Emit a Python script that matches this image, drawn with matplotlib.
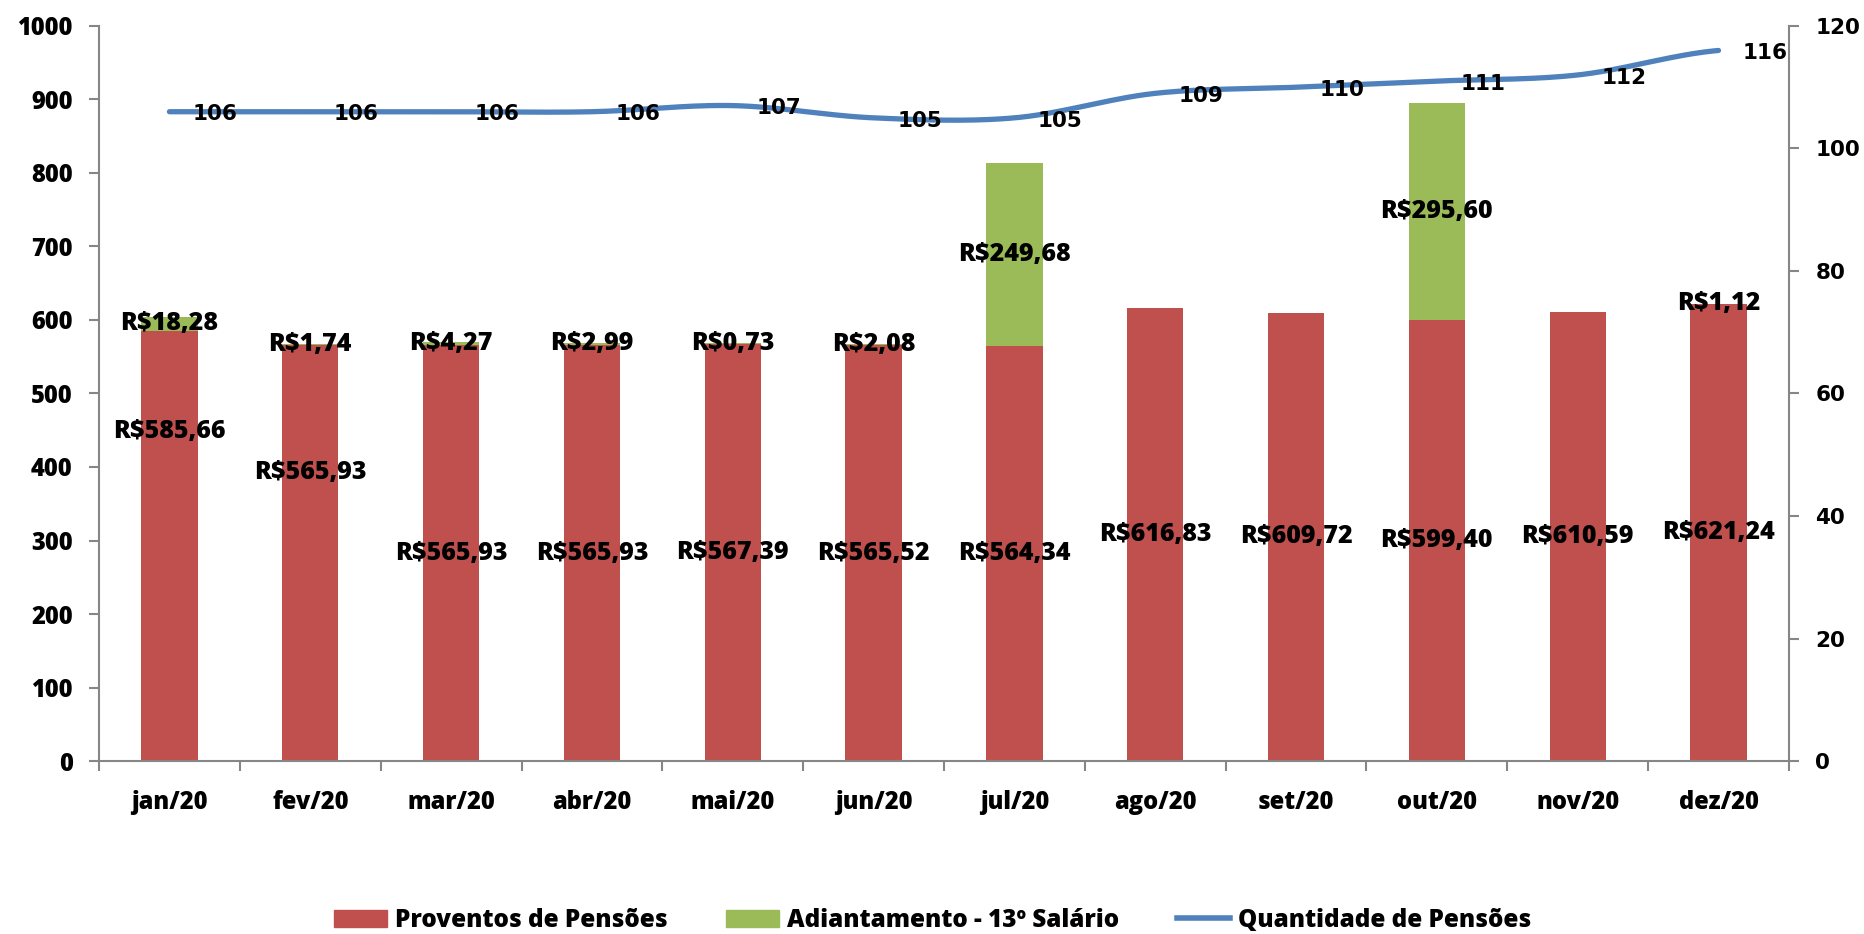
import numpy as np
import matplotlib
matplotlib.use("Agg")
import matplotlib.pyplot as plt
from matplotlib.patches import Patch
from matplotlib.lines import Line2D

meses = ["jan/20", "fev/20", "mar/20", "abr/20", "mai/20", "jun/20",
         "jul/20", "ago/20", "set/20", "out/20", "nov/20", "dez/20"]
proventos = [585.66, 565.93, 565.93, 565.93, 567.39, 565.52,
             564.34, 616.83, 609.72, 599.40, 610.59, 621.24]
adiantamento = [18.28, 1.74, 4.27, 2.99, 0.73, 2.08,
                249.68, 0, 0, 295.60, 0, 1.12]
quantidade = [106, 106, 106, 106, 107, 105, 105, 109, 110, 111, 112, 116]

RED = "#C0504D"
GREEN = "#9BBB59"
BLUE = "#4F81BD"
GRAY = "#868686"
F1 = "Open Sans"
F2 = "DejaVu Sans"
WT = 800

# labels moved by hand in the original (value units)
red_label_y = {0: 448, 1: 393}


def brl(v):
    return "R$" + f"{v:.2f}".replace(".", ",")


def catmull_rom(x, y, n=30):
    x = np.asarray(x, float)
    y = np.asarray(y, float)
    px = np.concatenate([[2 * x[0] - x[1]], x, [2 * x[-1] - x[-2]]])
    py = np.concatenate([[y[0]], y, [y[-1]]])
    xs, ys = [], []
    t = np.linspace(0, 1, n)
    for i in range(1, len(px) - 2):
        for arr, out in ((px, xs), (py, ys)):
            p0, p1, p2, p3 = arr[i - 1], arr[i], arr[i + 1], arr[i + 2]
            out.extend(0.5 * ((2 * p1) + (-p0 + p2) * t
                              + (2 * p0 - 5 * p1 + 4 * p2 - p3) * t ** 2
                              + (-p0 + 3 * p1 - 3 * p2 + p3) * t ** 3))
    return np.array(xs), np.array(ys)


fig = plt.figure(figsize=(18.65, 9.34), dpi=100)
ax = fig.add_axes([0.0531, 0.1852, 0.9061, 0.787])
x = np.arange(len(meses))
w = 0.40

ax.bar(x, proventos, w, color=RED, zorder=2)
ax.bar(x, adiantamento, w, bottom=proventos, color=GREEN, zorder=2)

for i, (p, a) in enumerate(zip(proventos, adiantamento)):
    ax.text(i, red_label_y.get(i, p / 2), brl(p), ha="center", va="center",
            fontsize=18, fontweight=WT, family=F1, zorder=5)
    if a > 0:
        ax.text(i, p + a / 2, brl(a), ha="center", va="center",
                fontsize=18, fontweight=WT, family=F1, zorder=5)

ax.set_xlim(-0.5, len(meses) - 0.5)
ax.set_ylim(0, 1000)
ax.set_yticks(range(0, 1001, 100))
ax.set_xticks(x)
ax.set_xticklabels(meses)
ax.set_xticks(np.arange(-0.5, len(meses), 1), minor=True)
ax.tick_params(axis="x", which="major", length=0, pad=21)
ax.tick_params(axis="x", which="minor", length=7, width=1.5, color=GRAY)
ax.tick_params(axis="y", length=7, width=1.5, color=GRAY, pad=12)
for lab in ax.get_xticklabels() + ax.get_yticklabels():
    lab.set_fontfamily(F1)
    lab.set_fontweight(WT)
    lab.set_fontsize(17)
for s in ("left", "bottom"):
    ax.spines[s].set_color(GRAY)
    ax.spines[s].set_linewidth(1.5)
ax.spines["top"].set_visible(False)
ax.spines["right"].set_visible(False)

ax2 = ax.twinx()
ax2.set_ylim(0, 120)
ax2.set_yticks(range(0, 121, 20))
sx, sy = catmull_rom(x, quantidade)
ax2.plot(sx, sy, color=BLUE, lw=3.8, solid_capstyle="round", zorder=4)
for i, q in enumerate(quantidade):
    ax2.annotate(str(q), (i, q), xytext=(17, -2), textcoords="offset points",
                 ha="left", va="center", fontsize=15.5, fontweight="bold",
                 family=F2, zorder=6)
ax2.tick_params(axis="y", length=7, width=1.5, color=GRAY, pad=12)
for lab in ax2.get_yticklabels():
    lab.set_fontfamily(F2)
    lab.set_fontweight("bold")
    lab.set_fontsize(15.5)
for s in ("top", "left", "bottom"):
    ax2.spines[s].set_visible(False)
ax2.spines["right"].set_color(GRAY)
ax2.spines["right"].set_linewidth(1.5)

handles = [Patch(color=RED, label="Proventos de Pensões"),
           Patch(color=GREEN, label="Adiantamento - 13º Salário"),
           Line2D([0], [0], color=BLUE, lw=4, label="Quantidade de Pensões")]
fig.legend(handles=handles, loc="lower center", bbox_to_anchor=(0.5, -0.022),
           ncol=3, frameon=False, handlelength=2.2, handletextpad=0.3,
           columnspacing=2.4, prop={"family": F1, "weight": WT, "size": 17.5})

fig.savefig("out.png", dpi=100)
